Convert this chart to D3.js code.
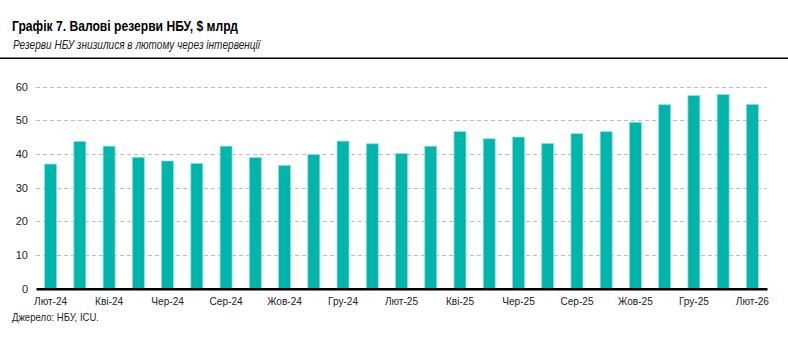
<!DOCTYPE html>
<html><head><meta charset="utf-8">
<script src="https://cdn.jsdelivr.net/npm/d3@7"></script>
<style>body{margin:0;background:#fff;}svg{display:block;font-family:"Liberation Sans",Arial,sans-serif;}</style>
</head><body>
<svg id="c" width="788" height="337"></svg>
<script>
const categories = ["Лют-24","Бер-24","Кві-24","Тра-24","Чер-24","Лип-24","Сер-24","Вер-24","Жов-24","Лис-24","Гру-24","Січ-25",
  "Лют-25","Бер-25","Кві-25","Тра-25","Чер-25","Лип-25","Сер-25","Вер-25","Жов-25","Лис-25","Гру-25","Січ-26","Лют-26"];
const reserves = [37.0, 43.7, 42.3, 39.0, 37.9, 37.2, 42.3, 38.9, 36.6, 39.8, 43.8, 43.0,
  40.1, 42.3, 46.6, 44.5, 45.0, 43.1, 46.0, 46.6, 49.4, 54.6, 57.3, 57.6, 54.7];
const tickLabels = ["Лют-24","Кві-24","Чер-24","Сер-24","Жов-24","Гру-24","Лют-25","Кві-25","Чер-25","Сер-25","Жов-25","Гру-25","Лют-26"];
const yTicks = [0,10,20,30,40,50,60];

const svg = d3.select("#c");
const x = d3.scaleBand().domain(categories).range([36, 767]).paddingInner(0.59).paddingOuter(0.295);
const y = d3.scaleLinear().domain([0, 60]).range([288.7, 86.5]);

// header
svg.append("text").attr("x",12).attr("y",31).attr("font-size",15).attr("font-weight","bold")
  .attr("textLength",226).attr("lengthAdjust","spacingAndGlyphs")
  .text("Графік 7. Валові резерви НБУ, $ млрд");
svg.append("text").attr("x",13).attr("y",49).attr("font-size",12).attr("font-style","italic").attr("fill","#222")
  .attr("textLength",247).attr("lengthAdjust","spacingAndGlyphs")
  .text("Резерви НБУ знизилися в лютому через інтервенції");
svg.append("line").attr("x1",0).attr("x2",788).attr("y1",58.3).attr("y2",58.3).attr("stroke","#000").attr("stroke-width",1.5);

// gridlines
svg.append("g").selectAll("line").data(yTicks.filter(d=>d>0)).join("line")
  .attr("x1",36).attr("x2",767).attr("y1",d=>Math.round(y(d))+0.5).attr("y2",d=>Math.round(y(d))+0.5)
  .attr("stroke","#bdbdbd").attr("stroke-dasharray","4,3").attr("stroke-width",1);

// y labels
const yAxis = d3.axisLeft(y).tickValues(yTicks).tickSize(0).tickPadding(8);
const yg = svg.append("g").attr("transform","translate(36,0)").call(yAxis);
yg.select(".domain").remove();
yg.selectAll("text").attr("font-size",11).attr("fill","#222");

// bars
svg.append("g").selectAll("rect").data(reserves).join("rect")
  .attr("x",(d,i)=>x(categories[i])).attr("width",x.bandwidth())
  .attr("y",d=>y(d)).attr("height",d=>y(0)-y(d))
  .attr("fill","#00b5ab").attr("stroke","#8fe0da").attr("stroke-width",0.8);

// x axis
const xAxis = d3.axisBottom(x).tickValues(tickLabels).tickSize(0).tickPadding(9);
const xg = svg.append("g").attr("transform",`translate(0,${y(0)})`).call(xAxis);
xg.select(".domain").attr("stroke","#000").attr("stroke-width",2.5);
xg.selectAll("text").attr("font-size",11).attr("fill","#222").attr("transform","scale(0.92,1)");

svg.append("text").attr("x",12).attr("y",321).attr("font-size",11).attr("fill","#222")
  .attr("textLength",87).attr("lengthAdjust","spacingAndGlyphs")
  .text("Джерело: НБУ, ICU.");
</script>
</body></html>
